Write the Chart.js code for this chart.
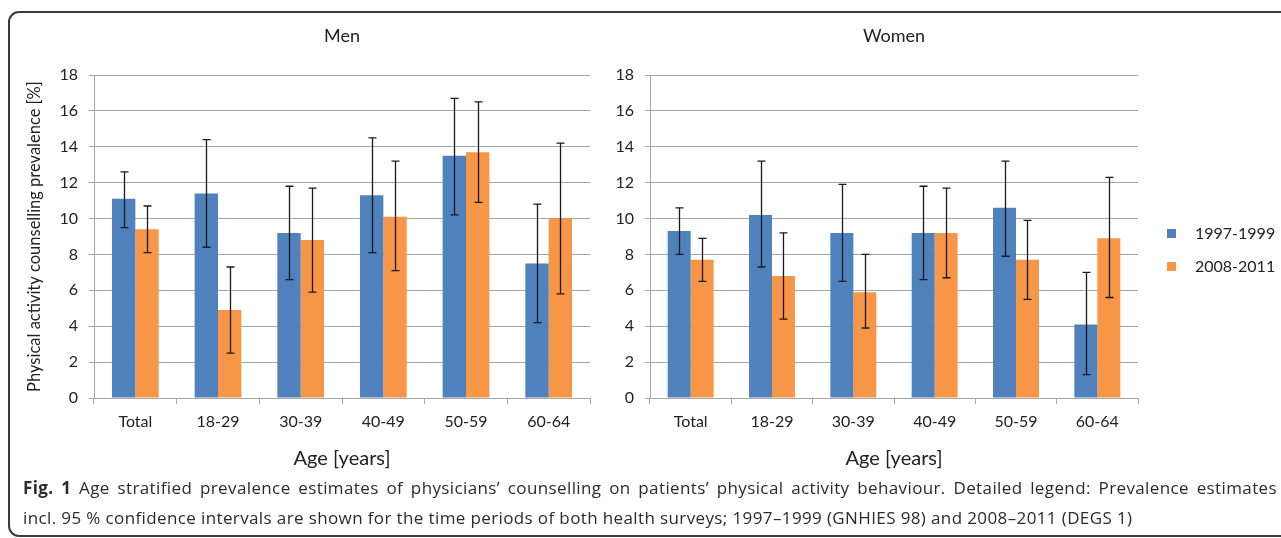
<!DOCTYPE html>
<html>
<head>
<meta charset="utf-8">
<script src="https://cdn.jsdelivr.net/npm/chart.js@4.4.1/dist/chart.umd.min.js"></script>
<style>
  html, body { margin: 0; padding: 0; background: #fff; }
  body { width: 1281px; height: 538px; overflow: hidden; position: relative; }
  .frame {
    position: absolute; left: 8px; top: 11px; width: 1320px; height: 526px;
    border: 2px solid #3a3a3a; border-radius: 11px; box-sizing: border-box;
  }
  canvas { position: absolute; top: 0; }
  #menChart { left: 0; }
  #womenChart { left: 600px; }
  .legend { position: absolute; left: 1167px; font: 16px Lato, sans-serif; color: #222; line-height: 20px; }
  .legend span { display: inline-block; width: 9px; height: 9px; margin-right: 19px; vertical-align: 1px; }
  .caption {
    position: absolute; left: 23px; width: 1254px; font: 17px "Open Sans", sans-serif; color: #2b2b2b;
    letter-spacing: 0.38px; line-height: 20px; white-space: nowrap;
  }
  .caption b { font-weight: 700; }
  #cap1 { top: 478px; text-align: justify; text-align-last: justify; }
  #cap2 { top: 508px; }
</style>
</head>
<body>
<div class="frame"></div>
<canvas id="menChart" width="600" height="480"></canvas>
<canvas id="womenChart" width="681" height="480"></canvas>
<div class="legend" style="top:223px"><span style="background:#4f81bd"></span>1997-1999</div>
<div class="legend" style="top:256px"><span style="background:#f79646"></span>2008-2011</div>
<div class="caption" id="cap1"><b>Fig. 1</b> Age stratified prevalence estimates of physicians’ counselling on patients’ physical activity behaviour. Detailed legend: Prevalence estimates</div>
<div class="caption" id="cap2">incl. 95 % confidence intervals are shown for the time periods of both health surveys; 1997–1999 (GNHIES 98) and 2008–2011 (DEGS 1)</div>
<script>
const ageGroups = ['Total', '18-29', '30-39', '40-49', '50-59', '60-64'];
const seriesLabels = ['1997-1999', '2008-2011'];

const menEarly = [11.1, 11.4, 9.2, 11.3, 13.5, 7.5];
const menEarlyLow = [9.5, 8.4, 6.6, 8.1, 10.2, 4.2];
const menEarlyHigh = [12.6, 14.4, 11.8, 14.5, 16.7, 10.8];
const menLate = [9.4, 4.9, 8.8, 10.1, 13.7, 10.0];
const menLateLow = [8.1, 2.5, 5.9, 7.1, 10.9, 5.8];
const menLateHigh = [10.7, 7.3, 11.7, 13.2, 16.5, 14.2];

const womenEarly = [9.3, 10.2, 9.2, 9.2, 10.6, 4.1];
const womenEarlyLow = [8.0, 7.3, 6.5, 6.6, 7.9, 1.3];
const womenEarlyHigh = [10.6, 13.2, 11.9, 11.8, 13.2, 7.0];
const womenLate = [7.7, 6.8, 5.9, 9.2, 7.7, 8.9];
const womenLateLow = [6.5, 4.4, 3.9, 6.7, 5.5, 5.6];
const womenLateHigh = [8.9, 9.2, 8.0, 11.7, 9.9, 12.3];

const yMin = 0;
const yMax = 18;
const yStep = 2;

const gridColor = '#a6a6a6';
const textColor = '#222222';

// draws the confidence interval whiskers on top of each bar
const errorBars = {
  id: 'errorBars',
  afterDatasetsDraw(chart) {
    const ctx = chart.ctx;
    const yScale = chart.scales.y;
    ctx.save();
    ctx.strokeStyle = '#1a1a1a';
    ctx.lineWidth = 1.3;
    chart.data.datasets.forEach((ds, i) => {
      const meta = chart.getDatasetMeta(i);
      meta.data.forEach((bar, j) => {
        const x = Math.round(bar.x) + 0.5;
        const top = yScale.getPixelForValue(ds.high[j]);
        const bottom = yScale.getPixelForValue(ds.low[j]);
        ctx.beginPath();
        ctx.moveTo(x, top);
        ctx.lineTo(x, bottom);
        ctx.moveTo(x - 4, top);
        ctx.lineTo(x + 4, top);
        ctx.moveTo(x - 4, bottom);
        ctx.lineTo(x + 4, bottom);
        ctx.stroke();
      });
    });
    ctx.restore();
  },
};

function makeChart(canvas, title, early, earlyLow, earlyHigh, late, lateLow, lateHigh, opts) {
  return new Chart(canvas, {
    type: 'bar',
    data: {
      labels: ageGroups,
      datasets: [
        { label: seriesLabels[0], data: early, low: earlyLow, high: earlyHigh, backgroundColor: '#4f81bd' },
        { label: seriesLabels[1], data: late, low: lateLow, high: lateHigh, backgroundColor: '#f79646' },
      ],
    },
    options: {
      responsive: false,
      animation: false,
      devicePixelRatio: 1,
      categoryPercentage: 0.565,
      barPercentage: 1.0,
      layout: { padding: { left: 0, right: opts.padRight, top: 0, bottom: 0 } },
      plugins: {
        legend: { display: false },
        tooltip: { enabled: false },
        title: {
          display: true,
          text: title,
          fullSize: false,
          color: textColor,
          font: { family: 'Lato', size: 18, weight: 'normal' },
          padding: { top: 25.2, bottom: 28.2 },
        },
      },
      scales: {
        x: {
          grid: { drawOnChartArea: false, drawTicks: true, tickLength: 6, color: gridColor, offset: true },
          border: { color: gridColor },
          ticks: { color: textColor, font: { family: 'Lato', size: 16 }, padding: 8 },
          title: {
            display: true,
            text: 'Age [years]',
            color: textColor,
            font: { family: 'Lato', size: 20 },
            padding: { top: 0, bottom: 9 },
          },
          afterFit(scale) { scale.height = 82; },
        },
        y: {
          min: yMin,
          max: yMax,
          grid: { color: gridColor, tickLength: 5 },
          border: { color: gridColor },
          ticks: { stepSize: yStep, color: textColor, font: { family: 'Lato', size: 16 }, padding: 11 },
          title: {
            display: opts.yTitle,
            text: 'Physical activity counselling prevalence [%]',
            color: textColor,
            font: { family: 'Lato', size: 16.5 },
            padding: { top: 25.1, bottom: 0 },
          },
          afterFit(scale) { scale.width = opts.yWidth; },
        },
      },
    },
    plugins: [errorBars],
  });
}

makeChart(document.getElementById('menChart'), 'Men',
  menEarly, menEarlyLow, menEarlyHigh, menLate, menLateLow, menLateHigh,
  { padRight: 10, yWidth: 94, yTitle: true });

makeChart(document.getElementById('womenChart'), 'Women',
  womenEarly, womenEarlyLow, womenEarlyHigh, womenLate, womenLateLow, womenLateHigh,
  { padRight: 143, yWidth: 50, yTitle: false });
</script>
</body>
</html>
